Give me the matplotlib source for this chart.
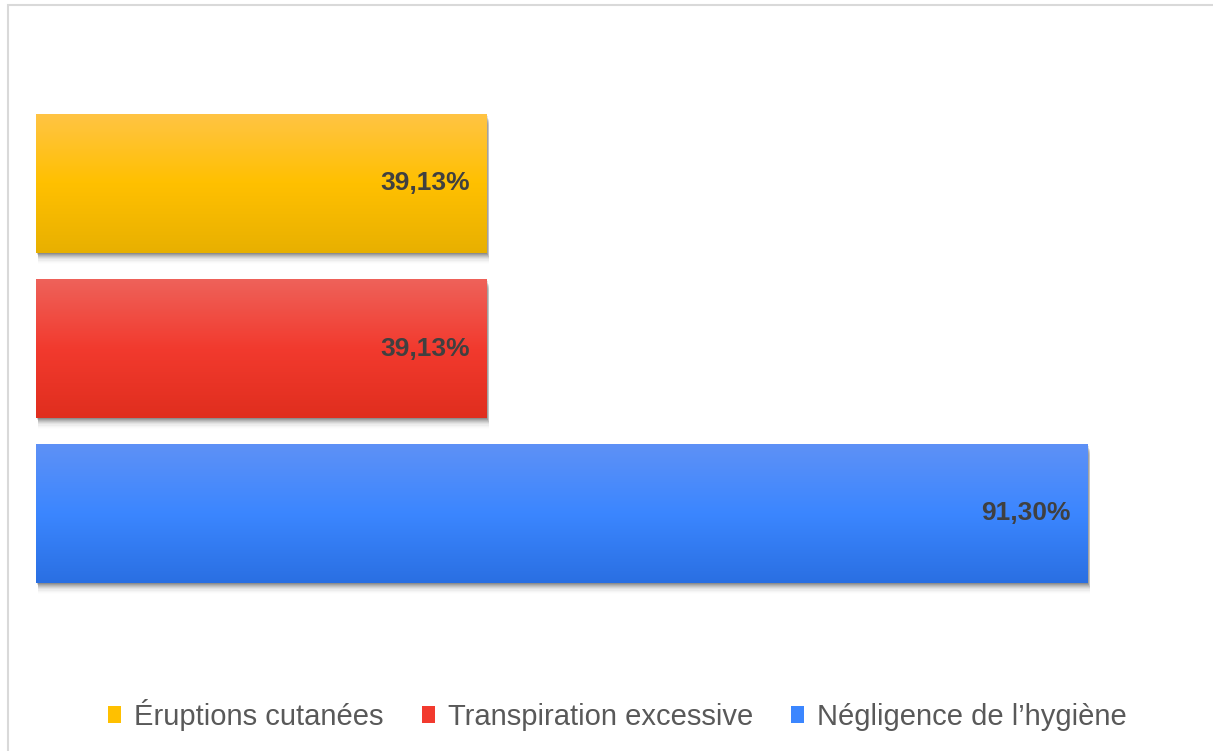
import numpy as np
import matplotlib.pyplot as plt
from matplotlib.colors import LinearSegmentedColormap
from matplotlib.patches import Rectangle
from matplotlib import transforms

plt.rcParams['font.family'] = ['Liberation Sans', 'DejaVu Sans']

# Data (bottom to top)
categories = ["Négligence de l\u2019hygiène", "Transpiration excessive", "Éruptions cutanées"]
values = [91.30, 39.13, 39.13]
labels = ["91,30%", "39,13%", "39,13%"]

# Vertical gradients: top, middle, bottom
gradients = [
    ["#5E91F6", "#3B86FF", "#2A6FE2"],
    ["#EE625A", "#F23A2E", "#E02E1E"],
    ["#FFC444", "#FFC000", "#E8B000"],
]
legend_order = [2, 1, 0]

W, H = 1213, 751
fig = plt.figure(figsize=(W / 100, H / 100), dpi=100)
fig.patch.set_facecolor("white")

# Outer frame of the chart area (left and top edges visible)
fig.add_artist(Rectangle((8 / W, -0.1), 1.2, 1 - 5 / H + 0.1, transform=fig.transFigure,
                         fill=False, edgecolor="#D9D9D9", linewidth=1.5))

left, right = 36 / W, 1187.5 / W
top, bottom = 1 - 101 / H, 1 - 596 / H
ax = fig.add_axes([left, bottom, right - left, top - bottom])
ax.set_xlim(0, 100)
ax.set_ylim(-0.5, len(values) - 0.5)
ax.axis("off")

ypos = np.arange(len(values))
bar_h = 0.84
bars = ax.barh(ypos, values, height=bar_h, color="none", edgecolor="none", zorder=3)

shadow_alphas = [0.12, 0.10, 0.085, 0.07, 0.055, 0.042, 0.03, 0.02, 0.012, 0.006]
for i, (b, grad) in enumerate(zip(bars, gradients)):
    x0, y0 = b.get_x(), b.get_y()
    w, h = b.get_width(), b.get_height()
    # soft drop shadow below and to the right
    for k, a in enumerate(shadow_alphas, start=1):
        tr = transforms.offset_copy(ax.transData, fig=fig, x=min(k, 4) * 0.6, y=-k * 1.1,
                                    units="dots")
        ax.add_patch(Rectangle((x0, y0), w, h, transform=tr, facecolor="black",
                               edgecolor="none", alpha=a, zorder=1))
    cmap = LinearSegmentedColormap.from_list(f"g{i}", grad[::-1])
    grad_img = np.linspace(0, 1, 256).reshape(-1, 1)
    ax.imshow(grad_img, cmap=cmap, aspect="auto", origin="lower",
              extent=[x0, x0 + w, y0, y0 + h], zorder=2, interpolation="bilinear")
    ax.text(x0 + w, y0 + h / 2, labels[i], transform=transforms.offset_copy(
                ax.transData, fig=fig, x=-17, y=0, units="dots"),
            ha="right", va="center", fontsize=19, fontweight="bold", color="#404040", zorder=5)

ax.set_xlim(0, 100)
ax.set_ylim(-0.5, len(values) - 0.5)

# Legend
handles = []
for idx in legend_order:
    handles.append(Rectangle((0, 0), 1, 1, facecolor=gradients[idx][1], edgecolor="none"))
leg = fig.legend(handles, [categories[i] for i in legend_order], loc="center",
                 bbox_to_anchor=(0.509, 1 - 715 / H), ncol=3, frameon=False,
                 fontsize=21, handlelength=0.45, handleheight=0.5, handletextpad=0.45,
                 columnspacing=1.3, labelcolor="#595959")

fig.savefig("out.png", dpi=100, facecolor="white")
